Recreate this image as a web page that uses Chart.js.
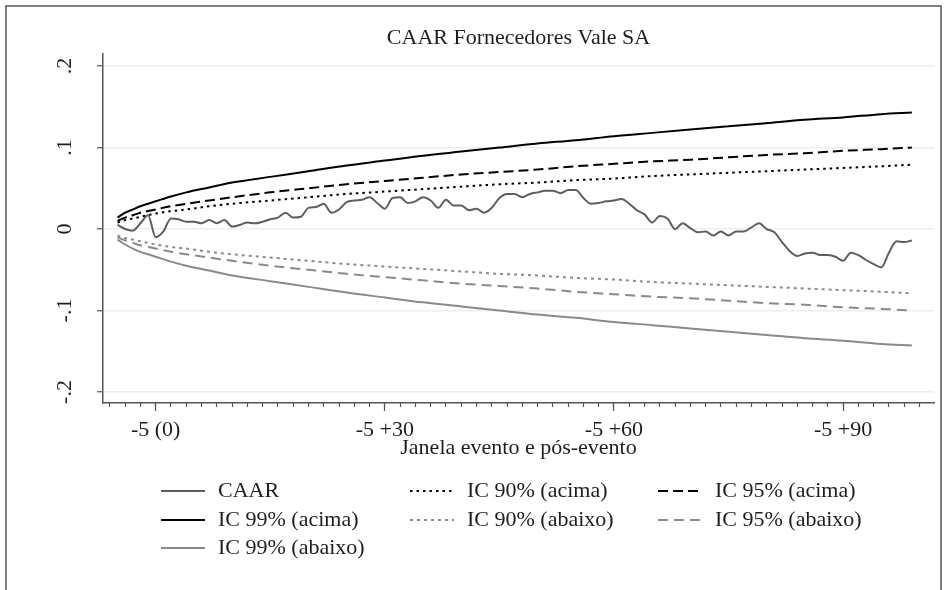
<!DOCTYPE html>
<html>
<head>
<meta charset="utf-8">
<script src="https://cdn.jsdelivr.net/npm/chart.js@4.4.0/dist/chart.umd.min.js"></script>
<style>
  html, body { margin: 0; padding: 0; background: #fff; }
</style>
</head>
<body>
<canvas id="caarChart" width="948" height="590"></canvas>
<script>
// event days -5 .. +99
const days = Array.from({ length: 105 }, (_, i) => i - 5);

// CAAR, one value per day
const caar = [
  0.005, 0.000, -0.002, 0.007, 0.017, -0.010, -0.003, 0.013, 0.012, 0.009,
  0.009, 0.007, 0.011, 0.007, 0.011, 0.003, 0.005, 0.008, 0.007, 0.009,
  0.012, 0.014, 0.020, 0.014, 0.015, 0.026, 0.027, 0.031, 0.020, 0.024,
  0.033, 0.035, 0.036, 0.039, 0.032, 0.025, 0.038, 0.039, 0.032, 0.034,
  0.039, 0.035, 0.026, 0.036, 0.029, 0.029, 0.023, 0.025, 0.020, 0.026,
  0.038, 0.043, 0.043, 0.039, 0.043, 0.045, 0.047, 0.047, 0.044, 0.048,
  0.048, 0.038, 0.031, 0.032, 0.034, 0.035, 0.037, 0.031, 0.023, 0.018,
  0.008, 0.016, 0.013, 0.000, 0.007, 0.001, -0.004, -0.003, -0.008, -0.003,
  -0.008, -0.003, -0.003, 0.002, 0.007, 0.000, -0.004, -0.016, -0.027, -0.033,
  -0.030, -0.029, -0.032, -0.032, -0.034, -0.039, -0.029, -0.032, -0.038, -0.043,
  -0.047, -0.029, -0.015, -0.016, -0.014
];

// confidence bands, read at these days
const ciDays = [-5, -4, -3, -2, -1, 0, 2, 4, 7, 10, 15, 20, 25, 30, 35, 40, 45, 50, 55, 60, 65, 70, 75, 80, 85, 90, 95, 99];
const ic90Up = [0.008, 0.011, 0.013, 0.015, 0.017, 0.019, 0.022, 0.024, 0.028, 0.031, 0.035, 0.039, 0.043, 0.046, 0.049, 0.052, 0.055, 0.057, 0.060, 0.062, 0.065, 0.067, 0.069, 0.071, 0.073, 0.075, 0.077, 0.079];
const ic95Up = [0.010, 0.014, 0.017, 0.020, 0.022, 0.024, 0.028, 0.031, 0.035, 0.039, 0.045, 0.050, 0.055, 0.059, 0.063, 0.067, 0.070, 0.073, 0.077, 0.080, 0.083, 0.085, 0.088, 0.091, 0.093, 0.096, 0.098, 0.100];
const ic99Up = [0.014, 0.020, 0.024, 0.028, 0.031, 0.034, 0.040, 0.045, 0.051, 0.057, 0.064, 0.071, 0.078, 0.084, 0.090, 0.095, 0.100, 0.105, 0.109, 0.114, 0.118, 0.122, 0.126, 0.130, 0.134, 0.137, 0.141, 0.143];
const ic90Down = [-0.008, -0.011, -0.013, -0.015, -0.017, -0.019, -0.022, -0.024, -0.028, -0.031, -0.035, -0.039, -0.043, -0.046, -0.049, -0.052, -0.055, -0.057, -0.060, -0.062, -0.065, -0.067, -0.069, -0.071, -0.073, -0.075, -0.077, -0.079];
const ic95Down = [-0.010, -0.014, -0.017, -0.020, -0.022, -0.024, -0.028, -0.031, -0.035, -0.039, -0.045, -0.050, -0.055, -0.059, -0.063, -0.067, -0.070, -0.073, -0.077, -0.080, -0.083, -0.085, -0.088, -0.091, -0.093, -0.096, -0.098, -0.100];
const ic99Down = [-0.013, -0.019, -0.024, -0.028, -0.031, -0.034, -0.040, -0.045, -0.051, -0.057, -0.064, -0.071, -0.078, -0.084, -0.090, -0.095, -0.100, -0.105, -0.109, -0.114, -0.118, -0.122, -0.126, -0.130, -0.134, -0.137, -0.141, -0.143];

const yTicks = [-0.2, -0.1, 0, 0.1, 0.2];
const yTickLabels = ['-.2', '-.1', '0', '.1', '.2'];
const xTicks = [0, 30, 60, 90];
const xTickLabels = ['-5 (0)', '-5 +30', '-5 +60', '-5 +90'];
const xMinorTicks = Array.from({ length: 54 }, (_, i) => -6 + 2 * i);

const serif = 'Liberation Serif';
const ink = '#1e1e1e';
const axisGray = '#555555';

const pts = (xs, ys) => xs.map((x, i) => ({ x: x, y: ys[i] }));

// grid: 3 columns, rows in Stata order
const legendPos = [
  [161, 491], [410, 491], [658, 491],
  [161, 520], [410, 520], [658, 520],
  [161, 548]
];

const frameAndText = {
  id: 'frameAndText',
  beforeDraw(chart) {
    const ctx = chart.ctx;
    ctx.save();
    ctx.fillStyle = '#fff';
    ctx.fillRect(0, 0, chart.width, chart.height);
    ctx.strokeStyle = '#555';
    ctx.lineWidth = 1.5;
    ctx.beginPath();
    ctx.moveTo(6, 600);
    ctx.lineTo(6, 6);
    ctx.lineTo(941, 6);
    ctx.lineTo(941, 600);
    ctx.stroke();
    ctx.restore();
  },
  afterDraw(chart) {
    const ctx = chart.ctx;
    const area = chart.chartArea;
    ctx.save();
    ctx.fillStyle = ink;
    ctx.font = '22px "' + serif + '"';
    ctx.textAlign = 'center';
    ctx.textBaseline = 'middle';
    ctx.fillText('CAAR Fornecedores Vale SA', (area.left + area.right) / 2, 38);

    ctx.textAlign = 'left';
    chart.data.datasets.forEach((ds, i) => {
      const [kx, ky] = legendPos[i];
      ctx.beginPath();
      ctx.setLineDash(ds.borderDash || []);
      ctx.strokeStyle = ds.borderColor;
      ctx.lineWidth = ds.borderWidth;
      ctx.moveTo(kx, ky);
      ctx.lineTo(kx + 44, ky);
      ctx.stroke();
      ctx.setLineDash([]);
      ctx.fillText(ds.label, kx + 57, ky);
    });
    ctx.restore();
  }
};

new Chart(document.getElementById('caarChart'), {
  type: 'line',
  data: {
    datasets: [
      { label: 'CAAR', data: pts(days, caar), borderColor: '#5e5e5e', borderWidth: 2 },
      { label: 'IC 90% (acima)', data: pts(ciDays, ic90Up), borderColor: '#000', borderWidth: 2, borderDash: [2.5, 4] },
      { label: 'IC 95% (acima)', data: pts(ciDays, ic95Up), borderColor: '#000', borderWidth: 2, borderDash: [10, 5] },
      { label: 'IC 99% (acima)', data: pts(ciDays, ic99Up), borderColor: '#000', borderWidth: 2 },
      { label: 'IC 90% (abaixo)', data: pts(ciDays, ic90Down), borderColor: '#8a8a8a', borderWidth: 2, borderDash: [3, 4] },
      { label: 'IC 95% (abaixo)', data: pts(ciDays, ic95Down), borderColor: '#8a8a8a', borderWidth: 2, borderDash: [10, 6] },
      { label: 'IC 99% (abaixo)', data: pts(ciDays, ic99Down), borderColor: '#8a8a8a', borderWidth: 2 }
    ]
  },
  options: {
    responsive: false,
    animation: false,
    layout: { padding: { top: 54, right: 14, bottom: 129, left: 0 } },
    elements: {
      point: { radius: 0 },
      line: { cubicInterpolationMode: 'monotone', fill: false }
    },
    plugins: {
      legend: { display: false },
      title: { display: false },
      tooltip: { enabled: false }
    },
    scales: {
      xMinor: {
        type: 'linear',
        position: 'bottom',
        weight: -1,
        min: -6.9,
        max: 101.9,
        afterBuildTicks: (s) => { s.ticks = xMinorTicks.map(v => ({ value: v })); },
        afterFit: (s) => { s.height = 0; },
        ticks: { display: false },
        grid: { drawOnChartArea: false, drawTicks: true, tickLength: 4, tickColor: axisGray, tickWidth: 1.2 },
        border: { display: false }
      },
      x: {
        type: 'linear',
        position: 'bottom',
        min: -6.9,
        max: 101.9,
        afterBuildTicks: (s) => { s.ticks = xTicks.map(v => ({ value: v })); },
        afterFit: (s) => { s.height = 58; },
        ticks: {
          autoSkip: false,
          maxRotation: 0,
          padding: 6,
          color: ink,
          font: { family: serif, size: 22 },
          callback: (v) => xTickLabels[xTicks.indexOf(v)]
        },
        grid: { drawOnChartArea: false, tickLength: 8, tickColor: axisGray, tickWidth: 1.2 },
        border: { display: true, color: axisGray, width: 1.5 },
        title: {
          display: true,
          text: 'Janela evento e pós-evento',
          color: ink,
          padding: 0,
          font: { family: serif, size: 22 }
        }
      },
      y: {
        min: -0.2135,
        max: 0.2148,
        afterBuildTicks: (s) => { s.ticks = yTicks.map(v => ({ value: v })); },
        afterFit: (s) => { s.width = 103; },
        ticks: {
          minRotation: 90,
          maxRotation: 90,
          crossAlign: 'center',
          padding: 20,
          color: ink,
          font: { family: serif, size: 22 },
          callback: (v) => yTickLabels[yTicks.indexOf(v)]
        },
        grid: { color: '#e9f0f3', lineWidth: 1.5, tickLength: 6, tickColor: axisGray, tickWidth: 1.2 },
        border: { display: true, color: axisGray, width: 1.5 }
      }
    }
  },
  plugins: [frameAndText]
});
</script>
</body>
</html>
